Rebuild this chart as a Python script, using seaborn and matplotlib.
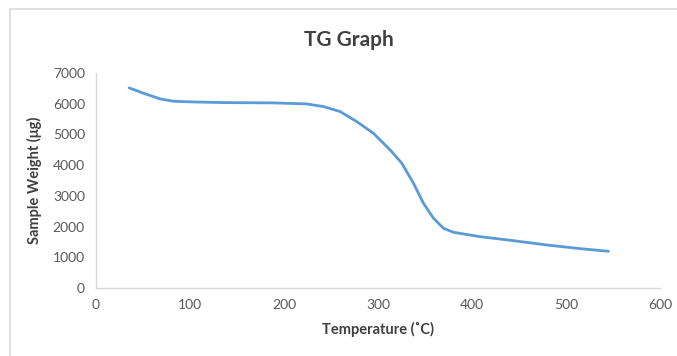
import matplotlib
matplotlib.use("Agg")
import matplotlib.pyplot as plt
import seaborn as sns
import pandas as pd
from matplotlib.patches import Rectangle

# TG curve
temperature = [35.2, 50.4, 68.2, 82.3, 100, 135.5, 188.7, 224, 242, 259.7,
               277.4, 295, 312.9, 325.3, 337.7, 348.3, 359, 369.6, 380.2,
               408.6, 444, 479.6, 515, 545.1]
weight = [6515, 6342, 6156, 6081, 6059, 6036, 6026, 5993, 5906, 5743,
          5417, 5039, 4495, 4062, 3410, 2759, 2270, 1944, 1814,
          1671, 1541, 1401, 1281, 1195]

x_ticks = [0, 100, 200, 300, 400, 500, 600]
y_ticks = [0, 1000, 2000, 3000, 4000, 5000, 6000, 7000]

sns.set_style("white")
plt.rcParams["font.family"] = ["Lato", "DejaVu Sans"]

df = pd.DataFrame({"temp": temperature, "weight": weight})

fig = plt.figure(figsize=(6.77, 3.56), dpi=100)
ax = fig.add_axes([0.1418, 0.191, 0.8332, 0.604])

sns.lineplot(data=df, x="temp", y="weight", ax=ax, color="#5b9bd5", linewidth=2)
ax.lines[0].set_solid_joinstyle("round")

ax.set_xlim(0, 600)
ax.set_ylim(0, 7000)
ax.set_xticks(x_ticks)
ax.set_yticks(y_ticks)
ax.tick_params(axis="both", length=0, labelsize=10, labelcolor="#595959", pad=8)

for side in ["top", "right"]:
    ax.spines[side].set_visible(False)
for side in ["bottom", "left"]:
    ax.spines[side].set_color("#d9d9d9")
    ax.spines[side].set_linewidth(1)

ax.set_xlabel("Temperature (˚C)", fontsize=10.5, fontweight="bold", color="#404040", labelpad=8)
ax.set_ylabel("Sample Weight (μg)", fontsize=10.5, fontweight="bold", color="#404040", labelpad=8)

fig.text(0.515, 0.887, "TG Graph", ha="center", va="center", fontsize=15,
         fontweight="bold", color="#404040")

# outer chart frame
fig.patches.append(Rectangle((0.0145, -0.05), 1.0, 1.025, transform=fig.transFigure,
                             fill=False, edgecolor="#d9d9d9", linewidth=1.2))

fig.savefig("out.png", dpi=100)
